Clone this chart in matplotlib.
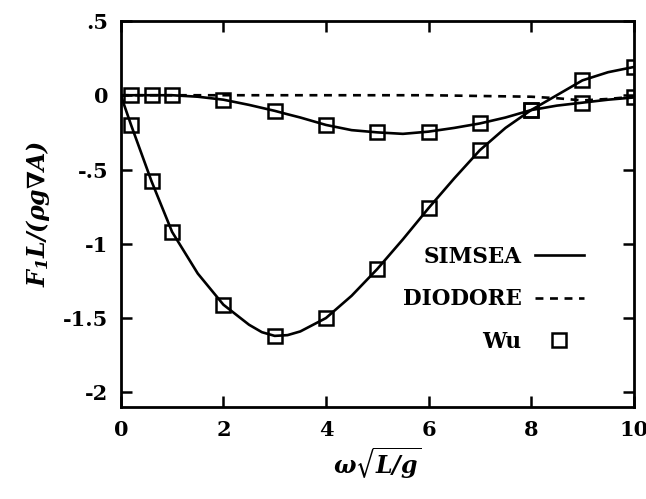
import matplotlib.pyplot as plt

plt.rcParams['font.family'] = 'DejaVu Serif'
plt.rcParams['font.weight'] = 'bold'
plt.rcParams['mathtext.fontset'] = 'dejavuserif'

# SIMSEA curves
sim_x = [0, 0.2, 0.6, 1, 1.5, 2, 2.5, 2.75, 3, 3.25, 3.5, 4, 4.5, 5, 5.5, 6, 6.5, 7,
         7.5, 8, 8.5, 9, 9.5, 10]
sim_lo = [0, -0.2, -0.58, -0.92, -1.2, -1.41, -1.545, -1.595, -1.62, -1.615, -1.59,
          -1.5, -1.35, -1.17, -0.97, -0.76, -0.56, -0.37, -0.22, -0.1, 0.0, 0.1, 0.155, 0.19]
sim_hi = [0, 0, 0, 0, -0.01, -0.03, -0.065, -0.085, -0.105, -0.128, -0.15, -0.2, -0.235,
          -0.25, -0.26, -0.245, -0.22, -0.19, -0.15, -0.1, -0.07, -0.05, -0.03, -0.015]

# DIODORE
dio_x = [0, 1, 2, 3, 4, 5, 6, 7, 8, 8.5, 9, 9.5, 10]
dio_y = [0, 0, 0, 0, 0, 0, 0, -0.005, -0.01, -0.02, -0.035, -0.025, -0.01]

# Wu
wu_x = [0.2, 0.6, 1, 2, 3, 4, 5, 6, 7, 8, 9, 10]
wu_lo = [-0.2, -0.58, -0.92, -1.41, -1.62, -1.5, -1.17, -0.76, -0.37, -0.1, 0.1, 0.19]
wu_hi = [0, 0, 0, -0.03, -0.105, -0.2, -0.25, -0.245, -0.19, -0.1, -0.05, -0.015]

xticks = [0, 2, 4, 6, 8, 10]
yticks = [0.5, 0, -0.5, -1, -1.5, -2]
ytick_labels = ['.5', '0', '-.5', '-1', '-1.5', '-2']

fig = plt.figure(figsize=(6.46, 4.99), dpi=100)
ax = fig.add_axes([0.187, 0.184, 0.794, 0.774])

lw = 1.9
ax.plot(sim_x, sim_lo, color='black', lw=lw, label='SIMSEA')
ax.plot(sim_x, sim_hi, color='black', lw=lw)
ax.plot(dio_x, dio_y, color='black', lw=lw, ls=(0, (3, 2.5)), label='DIODORE')
sq = dict(ls='none', marker='s', ms=10, mfc='none', mec='black', mew=1.8)
ax.plot(wu_x, wu_lo, label='Wu', **sq)
ax.plot(wu_x, wu_hi, **sq)

ax.set_xlim(0, 10)
ax.set_ylim(-2.1, 0.5)
ax.set_xticks(xticks)
ax.set_yticks(yticks)
ax.set_yticklabels(ytick_labels)
ax.tick_params(direction='in', top=True, right=True, length=8, width=1.8,
               labelsize=15, pad=9)
for s in ax.spines.values():
    s.set_linewidth(2)

ax.set_xlabel(r'$\mathbfit{\omega\sqrt{L/g}}$', fontsize=17, labelpad=4)
ax.set_ylabel(r'$\mathbfit{F_1L/(\rho g\nabla A)}$', fontsize=17, labelpad=8)

ax.legend(loc='upper right', bbox_to_anchor=(0.92, 0.44), frameon=False,
          markerfirst=False, fontsize=15.5, handlelength=2.3, handletextpad=0.6,
          labelspacing=0.95, borderaxespad=0)

fig.savefig('out.png', dpi=100)
